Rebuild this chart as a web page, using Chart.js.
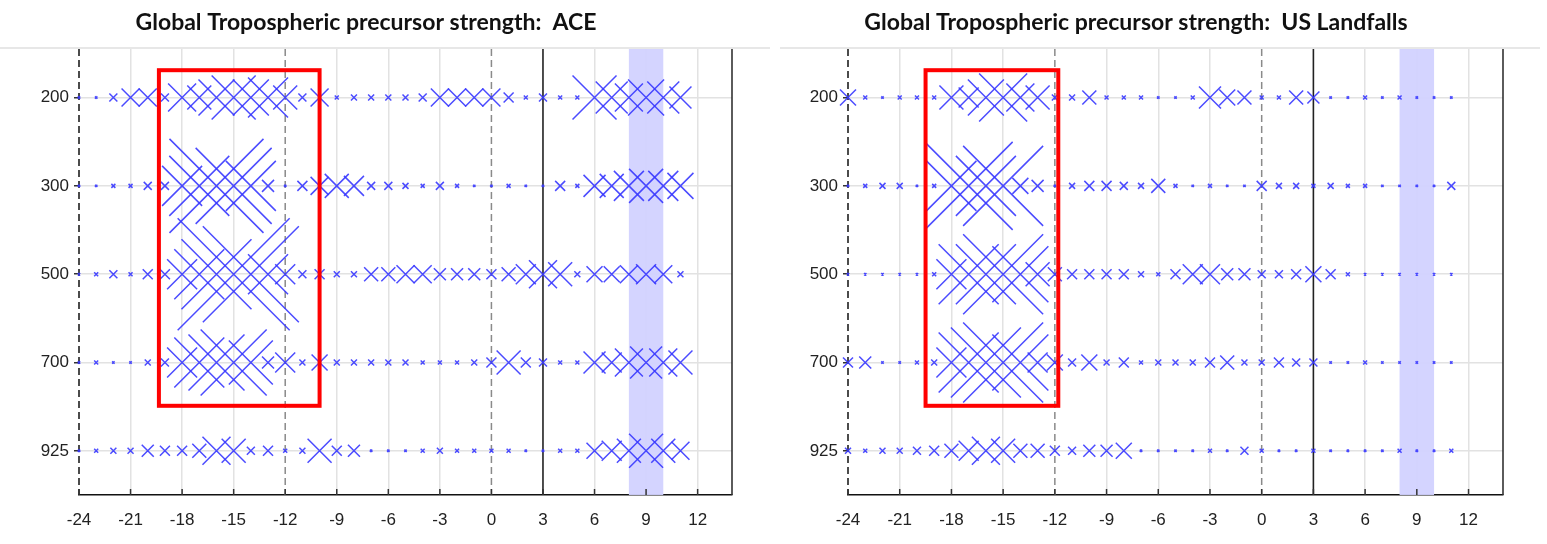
<!DOCTYPE html>
<html>
<head>
<meta charset="utf-8">
<script src="https://cdn.jsdelivr.net/npm/chart.js@4.4.0/dist/chart.umd.min.js"></script>
<style>
  body { margin: 0; background: #fff; }
  #wrap { position: relative; width: 1547px; height: 544px; }
  canvas { position: absolute; top: 0; }
</style>
</head>
<body>
<div id="wrap">
  <canvas id="aceChart" width="773" height="544" style="left:0"></canvas>
  <canvas id="usChart" width="778" height="544" style="left:769px"></canvas>
</div>
<script>
// lags (x) and pressure levels (rows)
const lags = [-24,-23,-22,-21,-20,-19,-18,-17,-16,-15,-14,-13,-12,-11,-10,-9,-8,-7,-6,-5,-4,-3,-2,-1,0,1,2,3,4,5,6,7,8,9,10,11];
const levels = ['200', '300', '500', '700', '925'];
const xTicks = [-24,-21,-18,-15,-12,-9,-6,-3,0,3,6,9,12];

// precursor strength per lag, ACE
const ace200 = [1,1,4,9,9,4,14,12,18,22,18,20,12,4,9,2,3,3,3,3,4,9,9,9,9,5,2,4,2,2,22,16,14,18,16,11];
const ace300 = [1,1,2,2,4,4,20,30,47,38,25,6,1,5,9,12,10,4,4,3,2,4,2,1,1,2,1,1,5,2,11,12,15,17,15,13];
const ace500 = [1,2,4,2,5,5,15,25,35,56,48,20,10,4,5,3,3,7,7,9,9,6,6,6,5,7,10,14,12,3,8,8,9,10,9,3];
const ace700 = [1,2,1,1,3,4,15,25,28,33,22,6,10,3,8,3,3,3,3,3,2,2,2,3,5,12,5,4,2,2,11,10,14,16,14,12];
const ace925 = [1,2,3,3,6,5,5,7,14,12,4,5,2,3,12,5,6,1,1,1,2,3,2,2,2,2,1,1,2,2,8,10,12,17,12,9];

// precursor strength per lag, US landfalls
const us200 = [8,2,1,2,2,2,12,10,18,24,14,12,3,3,7,2,2,2,1,1,2,11,8,7,2,2,7,6,1,0.5,2,1,2,1,1,1];
const us300 = [1,2,3,3,1,2,25,44,30,40,8,6,1,3,5,5,4,3,7,2,1,2,1,1,5,3,3,2,3,2,2,1,1,1,1,4];
const us500 = [1,1,1,1,1,2,15,30,30,40,28,12,7,5,5,5,5,3,2,5,10,10,6,6,4,4,5,8,5,2,1,1,1,1,1,1];
const us700 = [5,6,1,1,2,3,15,30,35,40,28,10,8,4,8,3,5,2,3,3,3,5,7,3,3,5,4,4,1,1,2,0.5,1,1,0.5,0.5];
const us925 = [3,2,3,3,4,5,7,10,14,12,7,7,5,4,6,6,8,1,1,1,1,2,1,4,2,1,1,2,1,1,1,1,2,1,1,2];

// highlighted windows
const aceBox = { x0: -19.35, x1: -10, y0: 0.69, y1: 4.49 };
const usBox = { x0: -19.5, x1: -11.8, y0: 0.69, y1: 4.49 };
const band = [8, 10];

const tickFont = { family: 'Liberation Sans', size: 17 };
const blue = 'rgba(55,55,255,0.9)';

function rowDataset(values, row) {
  return {
    data: lags.map((x, i) => ({ x: x, y: row + 1 })),
    pointStyle: 'crossRot',
    pointRadius: values.map(v => Math.max(v, 1.2) * Math.SQRT2),
    pointBorderColor: blue,
    pointBackgroundColor: blue,
    pointBorderWidth: 1.5,
    showLine: false,
    clip: false
  };
}

function vline(ctx, px, a) {
  ctx.beginPath(); ctx.moveTo(px, a.top); ctx.lineTo(px, a.bottom); ctx.stroke();
}

const decor = {
  id: 'decor',
  beforeDatasetsDraw(chart, args, opts) {
    const { ctx, chartArea: a, scales: { x, y } } = chart;
    ctx.save();
    // top separator
    ctx.strokeStyle = '#cfcfcf';
    ctx.lineWidth = 1.2;
    ctx.beginPath();
    ctx.moveTo(opts.lineFrom, a.top - 1);
    ctx.lineTo(chart.width - opts.lineTo, a.top - 1);
    ctx.stroke();
    // shaded lead window
    ctx.fillStyle = 'rgba(210,210,255,0.95)';
    ctx.fillRect(x.getPixelForValue(band[0]), a.top, x.getPixelForValue(band[1]) - x.getPixelForValue(band[0]), a.bottom - a.top);
    // dashed references
    ctx.strokeStyle = '#8a8a8a';
    ctx.lineWidth = 1.5;
    ctx.setLineDash([7, 4]);
    [-12, 0].forEach(v => vline(ctx, x.getPixelForValue(v), a));
    ctx.strokeStyle = '#111';
    vline(ctx, x.getPixelForValue(-24), a);
    ctx.setLineDash([]);
    ctx.strokeStyle = '#222';
    ctx.lineWidth = 1.6;
    vline(ctx, x.getPixelForValue(3), a);
    // right frame
    ctx.strokeStyle = '#333';
    vline(ctx, a.right, a);
    // inward x ticks
    ctx.lineWidth = 1.5;
    xTicks.forEach(v => {
      const px = x.getPixelForValue(v);
      ctx.beginPath(); ctx.moveTo(px, a.bottom); ctx.lineTo(px, a.bottom - 6); ctx.stroke();
    });
    ctx.restore();
  },
  afterDatasetsDraw(chart, args, opts) {
    const { ctx, scales: { x, y } } = chart;
    const b = opts.box;
    ctx.save();
    ctx.strokeStyle = '#f00';
    ctx.lineWidth = 4;
    const l = x.getPixelForValue(b.x0), r = x.getPixelForValue(b.x1);
    const t = y.getPixelForValue(b.y0), bt = y.getPixelForValue(b.y1);
    ctx.strokeRect(l, t, r - l, bt - t);
    ctx.restore();
  }
};

function makeChart(id, title, rows, box, padRight, lineFrom, lineTo) {
  new Chart(document.getElementById(id), {
    type: 'scatter',
    data: { datasets: rows.map((r, i) => rowDataset(r, i)) },
    options: {
      responsive: false,
      animation: false,
      events: [],
      layout: { autoPadding: false, padding: { left: 0, right: padRight, top: 0, bottom: 0 } },
      plugins: {
        legend: { display: false },
        tooltip: { enabled: false },
        title: {
          display: true,
          text: title,
          color: '#111',
          font: { family: 'Lato', size: 23, weight: 'bold' },
          padding: { top: 9, bottom: 12.4 }
        },
        decor: { box: box, lineFrom: lineFrom, lineTo: lineTo }
      },
      scales: {
        x: {
          type: 'linear',
          min: -24,
          max: 14,
          afterBuildTicks: s => { s.ticks = xTicks.map(v => ({ value: v })); },
          afterFit: s => { s.height = 49; },
          ticks: { font: tickFont, color: '#222', padding: 15, maxRotation: 0, autoSkip: false },
          grid: {
            drawTicks: false,
            lineWidth: 1.5,
            color: c => ([-24, -12, 0, 3].includes(c.tick && c.tick.value) ? 'rgba(0,0,0,0)' : '#e2e2e2')
          },
          border: { color: '#111', width: 1.5 }
        },
        y: {
          type: 'linear',
          reverse: true,
          min: 0.45,
          max: 5.5,
          afterBuildTicks: s => { s.ticks = levels.map((l, i) => ({ value: i + 1 })); },
          afterFit: s => { s.width = 79; },
          ticks: { font: tickFont, color: '#222', padding: 5, callback: v => levels[v - 1] },
          grid: { lineWidth: 1.5, color: '#e2e2e2', tickLength: 5, tickColor: '#333' },
          border: { display: false }
        }
      }
    },
    plugins: [decor]
  });
}

makeChart('aceChart', 'Global Tropospheric precursor strength:  ACE',
  [ace200, ace300, ace500, ace700, ace925], aceBox, 41, 0, 3);
makeChart('usChart', 'Global Tropospheric precursor strength:  US Landfalls',
  [us200, us300, us500, us700, us925], usBox, 44, 11, 7);
</script>
</body>
</html>
